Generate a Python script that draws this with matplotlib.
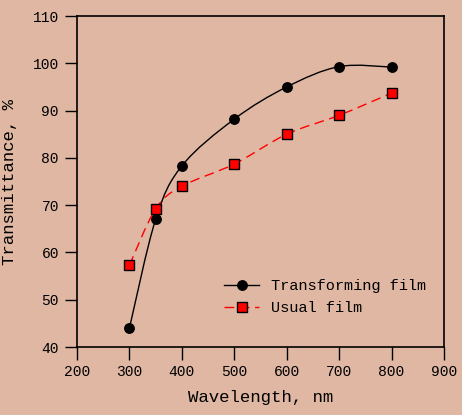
import numpy as np
import matplotlib
matplotlib.use("Agg")
import matplotlib.pyplot as plt
from matplotlib.path import Path
from matplotlib.patches import PathPatch
from matplotlib.lines import Line2D

wavelength = [300, 350, 400, 500, 600, 700, 800]
transforming = [44.0, 67.0, 78.3, 88.2, 95.0, 99.3, 99.2]
usual = [57.3, 69.2, 74.0, 78.7, 85.0, 89.0, 93.7]

BG = "#DFB7A3"
plt.rcParams["font.family"] = ["Liberation Mono", "DejaVu Sans Mono"]


def smooth_path(xs, ys):
    # catmull-rom through the points, as cubic bezier segments
    p = np.column_stack([xs, ys]).astype(float)
    p = np.vstack([p[0], p, p[-1]])
    verts = [p[1]]
    codes = [Path.MOVETO]
    for i in range(1, len(p) - 2):
        c1 = p[i] + (p[i + 1] - p[i - 1]) / 6
        c2 = p[i + 1] - (p[i + 2] - p[i]) / 6
        verts += [c1, c2, p[i + 1]]
        codes += [Path.CURVE4] * 3
    return Path(verts, codes)


fig = plt.figure(figsize=(4.62, 4.15), dpi=100, facecolor=BG)
ax = fig.add_axes([77 / 462, 1 - 347 / 415, (444 - 77) / 462, (347 - 16) / 415])
ax.set_facecolor(BG)

ax.add_patch(PathPatch(smooth_path(wavelength, transforming), fill=False,
                       edgecolor="black", lw=1.0))
ax.add_patch(PathPatch(smooth_path(wavelength, usual), fill=False,
                       edgecolor="red", lw=1.0, linestyle=(0, (7, 4))))
ax.plot(wavelength, transforming, "o", color="black", ms=6.8, zorder=3)
ax.plot(wavelength, usual, "s", mfc="red", mec="black", mew=1.0, ms=6.8, zorder=3)

ax.set_xlim(200, 900)
ax.set_ylim(40, 110)
ax.set_xticks(range(200, 901, 100))
ax.set_yticks(range(40, 111, 10))
ax.tick_params(direction="out", length=9, width=1, labelsize=10.5, pad=4)
for s in ax.spines.values():
    s.set_linewidth(1.2)

ax.set_xlabel("Wavelength, nm", fontsize=12.5, labelpad=8)
ax.set_ylabel("Transmittance, %", fontsize=12.5, labelpad=11)

handles = [
    Line2D([], [], color="black", marker="o", ms=6.8, lw=1.0),
    Line2D([], [], color="red", marker="s", mfc="red", mec="black", ms=6.8,
           lw=1.0, linestyle=(0, (7, 4))),
]
ax.legend(handles, ["Transforming film", "Usual film"], loc="lower right",
          bbox_to_anchor=(0.99, 0.055), frameon=False, fontsize=11,
          handlelength=2.3, labelspacing=0.5)

fig.savefig("out.png", dpi=100, facecolor=BG)
